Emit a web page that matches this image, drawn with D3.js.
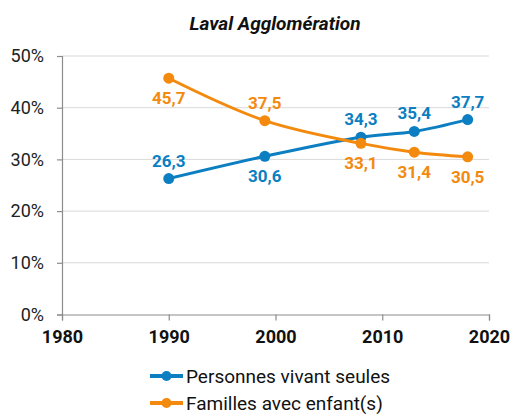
<!DOCTYPE html>
<html>
<head>
<meta charset="utf-8">
<script src="https://cdn.jsdelivr.net/npm/d3@7"></script>
<style>
  body { margin: 0; background: #fff; }
  svg { display: block; font-family: Roboto, "Noto Sans", sans-serif; }
</style>
</head>
<body>
<svg id="chart" width="512" height="416"></svg>
<script>
// data
const years = [1990, 1999, 2008, 2013, 2018];
const seules = [26.3, 30.6, 34.3, 35.4, 37.7];
const familles = [45.7, 37.5, 33.1, 31.4, 30.5];
// label placement: -1 above the point, 1 below
const seulesPos = [-1, 1, -1, -1, -1];
const famillesPos = [1, -1, 1, 1, 1];
const xTicks = [1980, 1990, 2000, 2010, 2020];
const yTicks = [0, 10, 20, 30, 40, 50];
const seriesNames = ["Personnes vivant seules", "Familles avec enfant(s)"];
const colors = ["#0b7fc1", "#f38a0e"];

const svg = d3.select("#chart");
const plotLeft = 62, plotRight = 489, plotTop = 56, plotBottom = 314.5;

const x = d3.scaleLinear().domain([1980, 2020]).range([plotLeft, plotRight]);
const y = d3.scaleLinear().domain([0, 50]).range([plotBottom, plotTop]);

// title
svg.append("text")
  .attr("x", 275).attr("y", 30)
  .attr("text-anchor", "middle")
  .attr("font-size", 19).attr("font-weight", "bold").attr("font-style", "italic")
  .attr("fill", "#111")
  .text("Laval Agglomération");

// gridlines
svg.append("g")
  .selectAll("line")
  .data(yTicks.filter(d => d > 0))
  .join("line")
  .attr("x1", plotLeft).attr("x2", plotRight)
  .attr("y1", d => y(d)).attr("y2", d => y(d))
  .attr("stroke", "#d9d9d9").attr("stroke-width", 1);

// y axis
const yAxis = svg.append("g")
  .attr("transform", `translate(${plotLeft},0)`)
  .call(d3.axisLeft(y).tickValues(yTicks).tickSize(5).tickPadding(13).tickFormat(d => d + "%"));
yAxis.select(".domain").attr("stroke", "#8c8c8c").attr("stroke-width", 1.2);
yAxis.selectAll(".tick line").attr("stroke", "#8c8c8c").attr("stroke-width", 1.2);
yAxis.selectAll("text").attr("font-size", 18).attr("fill", "#222").attr("font-family", "Roboto, sans-serif");

// x axis
const xAxis = svg.append("g")
  .attr("transform", `translate(0,${plotBottom})`)
  .call(d3.axisBottom(x).tickValues(xTicks).tickSize(6).tickPadding(10).tickFormat(d3.format("d")));
xAxis.select(".domain").attr("stroke", "#8c8c8c").attr("stroke-width", 1.2);
xAxis.selectAll(".tick line").attr("stroke", "#8c8c8c").attr("stroke-width", 1.2);
xAxis.selectAll("text").attr("font-size", 18).attr("font-weight", "bold").attr("fill", "#111").attr("font-family", "Roboto, sans-serif");

// lines
const line = d3.line()
  .x(d => x(d[0]))
  .y(d => y(d[1]))
  .curve(d3.curveCatmullRom.alpha(0.5));

const series = [
  { vals: seules, pos: seulesPos, color: colors[0] },
  { vals: familles, pos: famillesPos, color: colors[1] }
];

series.forEach(s => {
  const pts = years.map((yr, i) => [yr, s.vals[i], s.pos[i]]);
  svg.append("path")
    .datum(pts)
    .attr("d", line)
    .attr("fill", "none")
    .attr("stroke", s.color)
    .attr("stroke-width", 3);
  svg.append("g")
    .selectAll("circle")
    .data(pts)
    .join("circle")
    .attr("cx", d => x(d[0])).attr("cy", d => y(d[1]))
    .attr("r", 5.5).attr("fill", s.color);
});

// data labels drawn after both series
series.forEach(s => {
  const pts = years.map((yr, i) => [yr, s.vals[i], s.pos[i]]);
  svg.append("g")
    .selectAll("text")
    .data(pts)
    .join("text")
    .attr("x", d => x(d[0]))
    .attr("y", d => d[2] < 0 ? y(d[1]) - 12 : y(d[1]) + 26)
    .attr("text-anchor", "middle")
    .attr("font-size", 17).attr("font-weight", "bold")
    .attr("fill", s.color)
    .text(d => d3.format(".1f")(d[1]).replace(".", ","));
});

// legend
const legend = svg.append("g");
seriesNames.forEach((name, i) => {
  const ly = 376 + i * 27;
  legend.append("line")
    .attr("x1", 150).attr("x2", 183).attr("y1", ly).attr("y2", ly)
    .attr("stroke", colors[i]).attr("stroke-width", 4);
  legend.append("circle")
    .attr("cx", 166.5).attr("cy", ly).attr("r", 5).attr("fill", colors[i]);
  legend.append("text")
    .attr("x", 186).attr("y", ly + 7)
    .attr("font-size", 19).attr("fill", "#111")
    .text(name);
});
</script>
</body>
</html>
